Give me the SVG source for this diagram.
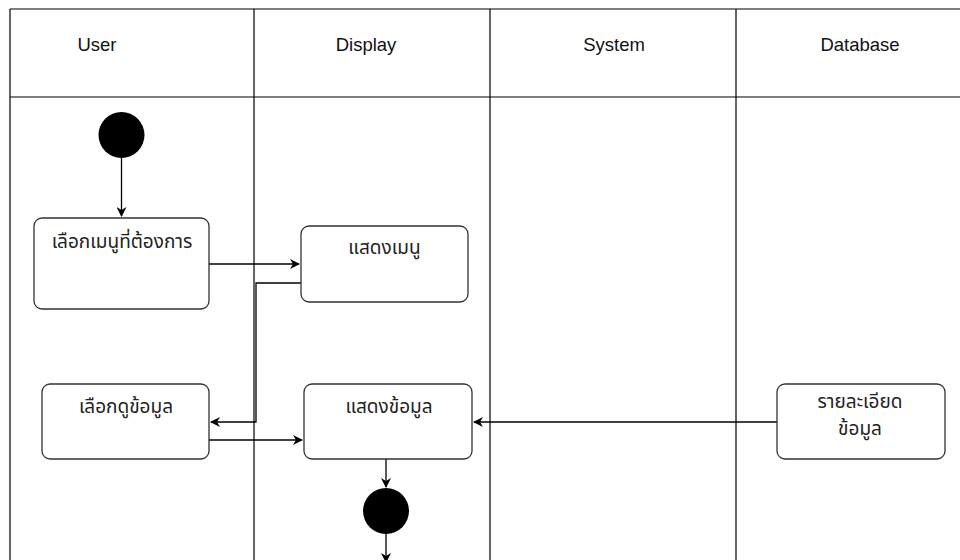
<svg xmlns="http://www.w3.org/2000/svg" width="960" height="560" viewBox="0 0 960 560">
<defs>
<marker id="ah" viewBox="0 0 10 10" refX="9" refY="5" markerWidth="10" markerHeight="10" markerUnits="userSpaceOnUse" orient="auto">
<path d="M0,0 L10,5 L0,10 L3,5 Z" fill="#000"/>
</marker>
<style>
.lane{stroke:#000;stroke-width:1.2;fill:none}
.hd{font-family:"Liberation Sans",Arial,sans-serif;font-size:18.5px;fill:#111;text-anchor:middle}
.box{fill:#fff;stroke:#333;stroke-width:1.3}
.tx{font-family:"Noto Sans Thai","Noto Sans","DejaVu Sans",sans-serif;font-size:19px;fill:#222;text-anchor:middle}
.c{fill:none;stroke:#000;stroke-width:1.3}
</style>
</defs>
<rect width="960" height="560" fill="#fff"/>
<g id="lanes">
<path class="lane" d="M10,9 H960 M10,97 H960 M10,9 V560 M254,9 V560 M490,9 V560 M736,9 V560"/>
<text class="hd" x="97" y="51">User</text>
<text class="hd" x="366" y="51">Display</text>
<text class="hd" x="614" y="51">System</text>
<text class="hd" x="860" y="51">Database</text>
</g>
<g id="connectors">
<path class="c" d="M121.5,158 V216" marker-end="url(#ah)"/>
<path class="c" d="M209,264 H299" marker-end="url(#ah)"/>
<path class="c" d="M301,283 H256 V422 H211" marker-end="url(#ah)"/>
<path class="c" d="M209,440 H302" marker-end="url(#ah)"/>
<path class="c" d="M777,422 H474" marker-end="url(#ah)"/>
<path class="c" d="M386,459 V487" marker-end="url(#ah)"/>
<path class="c" d="M386,534 V562" marker-end="url(#ah)"/>
</g>
<g id="start"><circle cx="121.5" cy="135" r="23" fill="#000"/></g>
<g id="n1"><rect class="box" x="34" y="218" width="175" height="91" rx="8"/><text class="tx" x="122" y="248">เลือกเมนูที่ต้องการ</text></g>
<g id="n2"><rect class="box" x="301" y="226" width="167" height="76" rx="8"/><text class="tx" x="384.5" y="254">แสดงเมนู</text></g>
<g id="n3"><rect class="box" x="42" y="384" width="167" height="75" rx="8"/><text class="tx" x="126" y="413">เลือกดูข้อมูล</text></g>
<g id="n4"><rect class="box" x="304" y="384" width="168" height="75" rx="8"/><text class="tx" x="389" y="413">แสดงข้อมูล</text></g>
<g id="n5"><rect class="box" x="777" y="384" width="168" height="75" rx="8"/><text class="tx" x="860" y="408">รายละเอียด</text><text class="tx" x="860" y="435">ข้อมูล</text></g>
<g id="end"><circle cx="386" cy="511" r="23" fill="#000"/></g>
</svg>
